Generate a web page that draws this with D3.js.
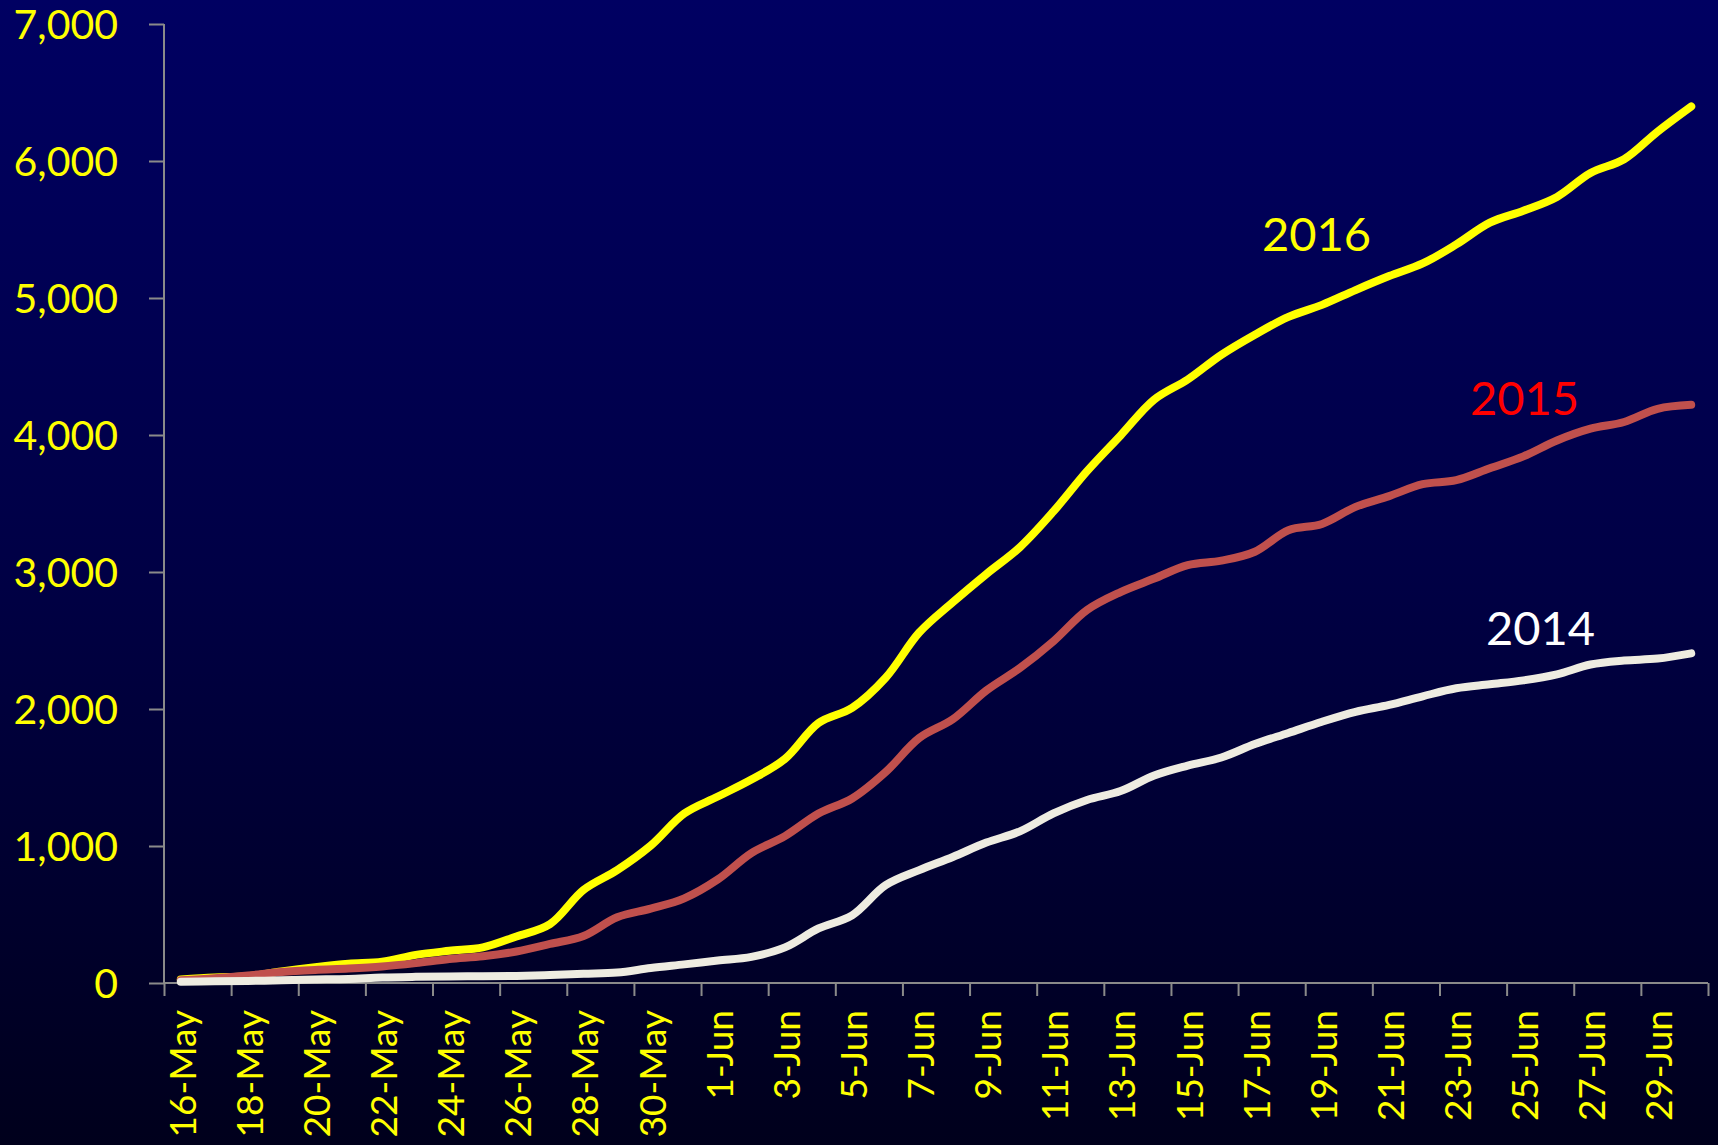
<!DOCTYPE html>
<html>
<head>
<meta charset="utf-8">
<script src="https://cdn.jsdelivr.net/npm/d3@7/dist/d3.min.js"></script>
<style>
  html, body { margin: 0; padding: 0; background: #000020; }
  svg { display: block; }
</style>
</head>
<body>
<script>
// ---- Data ----
const categories = [
  "16-May","17-May","18-May","19-May","20-May","21-May","22-May","23-May","24-May","25-May",
  "26-May","27-May","28-May","29-May","30-May","31-May",
  "1-Jun","2-Jun","3-Jun","4-Jun","5-Jun","6-Jun","7-Jun","8-Jun","9-Jun","10-Jun",
  "11-Jun","12-Jun","13-Jun","14-Jun","15-Jun","16-Jun","17-Jun","18-Jun","19-Jun","20-Jun",
  "21-Jun","22-Jun","23-Jun","24-Jun","25-Jun","26-Jun","27-Jun","28-Jun","29-Jun","30-Jun"
];
const values2016 = [
  25, 40, 50, 85, 115, 140, 155, 205, 235, 260,
  340, 430, 680, 824, 1003, 1237,
  1361, 1485, 1636, 1898, 2008, 2228, 2558, 2779, 2985, 3181,
  3442, 3736, 3997, 4258, 4405, 4585, 4732, 4862, 4950, 5058,
  5160, 5252, 5391, 5550, 5637, 5738, 5912, 6013, 6215, 6398
];
const values2015 = [
  20, 35, 55, 80, 95, 105, 120, 145, 175, 195,
  230, 285, 343, 480, 543, 618,
  756, 948, 1072, 1237, 1347, 1540, 1788, 1925, 2135, 2299,
  2495, 2723, 2854, 2952, 3050, 3083, 3148, 3305, 3351, 3475,
  3554, 3641, 3670, 3757, 3844, 3960, 4046, 4095, 4191, 4220
];
const values2014 = [
  10, 12, 15, 20, 25, 30, 40, 45, 48, 50,
  52, 58, 67, 76, 109, 136,
  164, 191, 260, 398, 494, 714, 824, 920, 1025, 1107,
  1238, 1336, 1401, 1515, 1587, 1646, 1744, 1825, 1907, 1979,
  2030, 2093, 2151, 2180, 2209, 2253, 2325, 2354, 2368, 2406
];
const yTicks = [0, 1000, 2000, 3000, 4000, 5000, 6000, 7000];
const seriesNames = ["2016", "2015", "2014"];

// ---- Layout ----
const W = 1718, H = 1145;
const plotLeft = 164, plotRight = 1708, plotTop = 24, plotBottom = 983;

const svg = d3.select("body").append("svg").attr("width", W).attr("height", H);

const defs = svg.append("defs");
const grad = defs.append("linearGradient").attr("id", "bg").attr("x1", 0).attr("y1", 0).attr("x2", 0).attr("y2", 1);
grad.append("stop").attr("offset", "0%").attr("stop-color", "#000062");
grad.append("stop").attr("offset", "50%").attr("stop-color", "#000045");
grad.append("stop").attr("offset", "100%").attr("stop-color", "#00001c");
svg.append("rect").attr("width", W).attr("height", H).attr("fill", "url(#bg)");

const x = d3.scaleBand().domain(categories).range([plotLeft, plotRight]).padding(0);
const xi = d3.scaleLinear().domain([0, categories.length]).range([plotLeft, plotRight]);
const y = d3.scaleLinear().domain([0, 7000]).range([plotBottom, plotTop]);

const axisColor = "#8a8a8a";
const font = "Lato, 'Open Sans', sans-serif";

// Y axis
const yAxis = svg.append("g").attr("transform", `translate(${plotLeft},0)`)
  .call(d3.axisLeft(y).tickValues(yTicks).tickSize(15).tickPadding(31).tickFormat(d3.format(",")));
yAxis.selectAll("path, line").attr("stroke", axisColor).attr("stroke-width", 2);
yAxis.select(".domain").attr("d", `M0,${plotTop}V${plotBottom}`);
yAxis.selectAll("text").attr("fill", "#ffff00").style("font-family", font).style("font-size", "41px").attr("dy", "0.36em");

// X axis ticks (category boundaries every 2)
const xTickAxis = svg.append("g").attr("transform", `translate(0,${plotBottom})`)
  .call(d3.axisBottom(xi).tickValues(d3.range(0, categories.length + 1, 2)).tickSize(13).tickFormat(""));
xTickAxis.selectAll("path, line").attr("stroke", axisColor).attr("stroke-width", 2);
xTickAxis.select(".domain").attr("d", `M${plotLeft},0H${plotRight}`);

// X labels
const xLabAxis = svg.append("g").attr("transform", `translate(0,${plotBottom})`)
  .call(d3.axisBottom(x).tickValues(categories.filter((d, i) => i % 2 === 0)).tickSize(0));
xLabAxis.select(".domain").remove();
xLabAxis.selectAll("text")
  .attr("fill", "#ffff00").style("font-family", font).style("font-size", "37px")
  .attr("text-anchor", "end").attr("transform", "rotate(-90)")
  .attr("x", -27).attr("y", 0).attr("dy", "0.4em");

// Lines
const line = d3.line()
  .x((d, i) => x(categories[i]) + x.bandwidth() / 2)
  .y(d => y(d))
  .curve(d3.curveCatmullRom.alpha(0.5));

const series = [
  { name: seriesNames[0], values: values2016, color: "#ffff00" },
  { name: seriesNames[1], values: values2015, color: "#c0504d" },
  { name: seriesNames[2], values: values2014, color: "#eeece1" }
];
svg.append("g").selectAll("path").data(series).join("path")
  .attr("d", d => line(d.values))
  .attr("fill", "none").attr("stroke", d => d.color)
  .attr("stroke-width", 8).attr("stroke-linecap", "round").attr("stroke-linejoin", "round");

// Series labels
const labels = [
  { text: seriesNames[0], x: 1262, y: 251, color: "#ffff00" },
  { text: seriesNames[1], x: 1470, y: 415, color: "#ff0000" },
  { text: seriesNames[2], x: 1486, y: 645, color: "#ffffff" }
];
svg.append("g").selectAll("text").data(labels).join("text")
  .attr("x", d => d.x).attr("y", d => d.y).attr("fill", d => d.color)
  .style("font-family", font).style("font-size", "47px")
  .text(d => d.text);
</script>
</body>
</html>
